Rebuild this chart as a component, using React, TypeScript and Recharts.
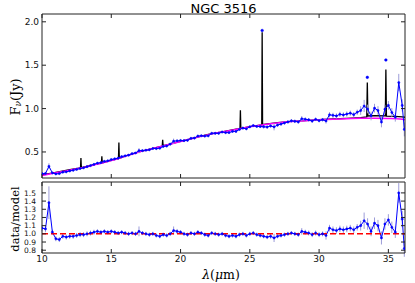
import { LineChart, Line, XAxis, YAxis, ErrorBar, ReferenceLine } from "recharts";

// wavelength grid of the measured spectrum (micron)
const waves = [
  10, 10.25, 10.5, 10.75, 11, 11.25, 11.5, 11.75, 12, 12.25, 12.5, 12.75,
  13, 13.25, 13.5, 13.75, 14, 14.25, 14.5, 14.75, 15, 15.25, 15.5, 15.75,
  16, 16.25, 16.5, 16.75, 17, 17.25, 17.5, 17.75, 18, 18.25, 18.5, 18.75,
  19, 19.25, 19.5, 19.75, 20, 20.25, 20.5, 20.75, 21, 21.25, 21.5, 21.75,
  22, 22.25, 22.5, 22.75, 23, 23.25, 23.5, 23.75, 24, 24.25, 24.5, 24.75,
  25, 25.25, 25.5, 25.75, 26, 26.25, 26.5, 26.75, 27, 27.25, 27.5, 27.75,
  28, 28.25, 28.5, 28.75, 29, 29.25, 29.5, 29.75, 30, 30.25, 30.5, 30.75,
  31, 31.25, 31.5, 31.75, 32, 32.25, 32.5, 32.75, 33, 33.25, 33.5, 33.75,
  34, 34.25, 34.5, 34.75, 35, 35.25, 35.5, 35.75, 36, 36.15,
];

const flux = [
  0.25, 0.252, 0.335, 0.258, 0.247, 0.251, 0.267, 0.271, 0.281, 0.289, 0.299, 0.309,
  0.317, 0.33, 0.343, 0.357, 0.371, 0.377, 0.391, 0.398, 0.412, 0.421, 0.429, 0.446,
  0.455, 0.463, 0.48, 0.488, 0.515, 0.515, 0.52, 0.525, 0.54, 0.539, 0.543, 0.564,
  0.568, 0.59, 0.624, 0.628, 0.632, 0.63, 0.634, 0.657, 0.66, 0.683, 0.687, 0.683,
  0.686, 0.715, 0.715, 0.715, 0.73, 0.723, 0.723, 0.737, 0.737, 0.76, 0.775, 0.767,
  0.79, 0.804, 0.794, 0.793, 0.791, 0.787, 0.8, 0.789, 0.81, 0.822, 0.834, 0.846,
  0.859, 0.853, 0.846, 0.883, 0.877, 0.871, 0.856, 0.876, 0.861, 0.872, 0.857, 0.929,
  0.922, 0.915, 0.934, 0.927, 0.937, 0.947, 0.93, 0.958, 0.977, 1.03, 0.995, 0.915,
  1.005, 0.978, 0.844, 0.993, 1.037, 0.955, 0.9, 1.3, 1.036, 0.76,
];

const fluxErr = [
  0.012, 0.012, 0.035, 0.012, 0.01, 0.01, 0.01, 0.01, 0.01, 0.01, 0.01, 0.01,
  0.01, 0.01, 0.01, 0.01, 0.012, 0.012, 0.012, 0.012, 0.012, 0.012, 0.012, 0.012,
  0.012, 0.012, 0.012, 0.012, 0.03, 0.012, 0.012, 0.012, 0.012, 0.012, 0.012, 0.012,
  0.012, 0.015, 0.03, 0.015, 0.015, 0.015, 0.015, 0.015, 0.015, 0.015, 0.015, 0.015,
  0.015, 0.015, 0.015, 0.015, 0.015, 0.015, 0.015, 0.015, 0.015, 0.015, 0.015, 0.015,
  0.015, 0.015, 0.015, 0.015, 0.02, 0.02, 0.02, 0.04, 0.02, 0.02, 0.02, 0.02,
  0.02, 0.02, 0.02, 0.03, 0.02, 0.02, 0.02, 0.02, 0.02, 0.02, 0.03, 0.03,
  0.03, 0.03, 0.03, 0.03, 0.03, 0.03, 0.03, 0.03, 0.05, 0.07, 0.05, 0.05,
  0.05, 0.05, 0.06, 0.05, 0.05, 0.05, 0.05, 0.1, 0.07, 0.08,
];

const ratio = [
  1.07, 1.06, 1.38, 1.02, 0.94, 0.93, 0.97, 0.96, 0.97, 0.97, 0.98, 0.99,
  0.99, 1.0, 1.01, 1.02, 1.03, 1.02, 1.03, 1.02, 1.03, 1.02, 1.01, 1.02,
  1.01, 1.0, 1.01, 1.0, 1.03, 1.01, 1.0, 0.99, 1.0, 0.98, 0.97, 0.99,
  0.98, 1.0, 1.04, 1.03, 1.02, 1.0, 0.99, 1.01, 1.0, 1.02, 1.01, 0.99,
  0.98, 1.01, 1.0, 0.99, 1.0, 0.98, 0.97, 0.98, 0.97, 0.99, 1.0, 0.98,
  1.0, 1.01, 0.99, 0.98, 0.97, 0.96, 0.97, 0.95, 0.97, 0.98, 0.99, 1.0,
  1.01, 1.0, 0.99, 1.03, 1.02, 1.01, 0.99, 1.01, 0.99, 1.0, 0.98, 1.07,
  1.05, 1.04, 1.06, 1.05, 1.06, 1.07, 1.05, 1.08, 1.1, 1.16, 1.12, 1.03,
  1.13, 1.1, 0.95, 1.12, 1.17, 1.08, 1.02, 1.5, 1.18, 0.82,
];

const ratioErr = [
  0.04, 0.04, 0.2, 0.03, 0.03, 0.03, 0.03, 0.03, 0.03, 0.03, 0.03, 0.03,
  0.03, 0.03, 0.03, 0.03, 0.025, 0.025, 0.025, 0.025, 0.025, 0.025, 0.025, 0.025,
  0.025, 0.025, 0.025, 0.025, 0.06, 0.025, 0.025, 0.025, 0.025, 0.025, 0.025, 0.025,
  0.025, 0.025, 0.05, 0.03, 0.025, 0.025, 0.025, 0.025, 0.025, 0.025, 0.025, 0.025,
  0.025, 0.025, 0.025, 0.025, 0.025, 0.025, 0.025, 0.025, 0.025, 0.025, 0.025, 0.025,
  0.025, 0.025, 0.025, 0.025, 0.025, 0.025, 0.03, 0.05, 0.025, 0.025, 0.025, 0.025,
  0.025, 0.025, 0.025, 0.04, 0.03, 0.03, 0.03, 0.03, 0.03, 0.03, 0.05, 0.04,
  0.04, 0.04, 0.04, 0.04, 0.04, 0.04, 0.04, 0.04, 0.06, 0.1, 0.07, 0.06,
  0.07, 0.07, 0.08, 0.07, 0.07, 0.07, 0.07, 0.12, 0.1, 0.1,
];

// line peaks of the data that stick out above the model
const peakWave = [25.89, 33.48, 34.82];
const peakFlux = [1.9, 1.36, 1.56];

// continuum (magenta)
const contWave = [10, 11, 12, 13, 14, 15, 16, 17, 18, 19, 20, 21, 22, 23, 24, 25, 26, 27, 28, 29, 30, 31, 32, 33, 34, 35, 36, 36.2];
const contFlux = [0.23, 0.26, 0.29, 0.32, 0.36, 0.4, 0.45, 0.5, 0.54, 0.58, 0.62, 0.66, 0.7, 0.73, 0.76, 0.79, 0.815, 0.835, 0.85, 0.86, 0.87, 0.878, 0.884, 0.888, 0.889, 0.886, 0.878, 0.87];

// full model with emission lines (black)
const modelWave = [
  10, 11, 12, 12.78, 12.81, 12.84, 13, 14, 14.29, 14.32, 14.35, 15, 15.52, 15.55, 15.58,
  16, 17, 18, 18.68, 18.71, 18.74, 19, 20, 21, 22, 23, 24, 24.29, 24.32, 24.35, 25,
  25.86, 25.89, 25.92, 26, 27, 28, 29, 30, 31, 32, 33, 33.44, 33.48, 33.52, 34, 34.78,
  34.82, 34.86, 35.5, 36, 36.2,
];
const modelFlux = [
  0.235, 0.265, 0.295, 0.317, 0.43, 0.319, 0.325, 0.362, 0.372, 0.45, 0.375, 0.402, 0.424, 0.61, 0.428,
  0.452, 0.502, 0.542, 0.568, 0.64, 0.573, 0.582, 0.622, 0.662, 0.702, 0.732, 0.762, 0.77, 0.98, 0.772, 0.792,
  0.812, 1.88, 0.815, 0.817, 0.837, 0.852, 0.862, 0.872, 0.88, 0.887, 0.895, 0.905, 1.3, 0.915, 0.918, 0.915,
  1.45, 0.912, 0.91, 0.905, 0.9,
];

const xTicks = [10, 15, 20, 25, 30, 35];
const fluxTicks = [0.5, 1.0, 1.5, 2.0];
const ratioTicks = [0.8, 0.9, 1.0, 1.1, 1.2, 1.3, 1.4, 1.5];

const spectrum = waves.map((x, i) => ({ x, y: flux[i], err: fluxErr[i] }));
const ratioData = waves.map((x, i) => ({ x, y: ratio[i], err: ratioErr[i] }));
const continuum = contWave.map((x, i) => ({ x, y: contFlux[i] }));
const model = modelWave.map((x, i) => ({ x, y: modelFlux[i] }));
const peaks = peakWave.map((x, i) => ({ x, y: peakFlux[i] }));

const FRAME = "#222";
const BLUE = "#0000ff";
const ERR = "#9c9cd8";
const tickFont = { fontSize: 9, fill: "#111", fontFamily: "DejaVu Sans" };
const smallTickFont = { fontSize: 7.5, fill: "#111", fontFamily: "DejaVu Sans" };
const serif = "DejaVu Serif";
const blank = () => "";

function Panels() {
  return (
    <>
      <div style={{ position: "absolute", left: 0, top: 0 }}>
        <LineChart width={415} height={180} margin={{ top: 0, right: 0, bottom: 0, left: 0 }}>
          <XAxis xAxisId="b" dataKey="x" type="number" domain={[10, 36.2]} allowDataOverflow ticks={xTicks}
            height={2} tickSize={-4} tickFormatter={blank} stroke={FRAME} />
          <XAxis xAxisId="t" orientation="top" dataKey="x" type="number" domain={[10, 36.2]} allowDataOverflow
            ticks={xTicks} height={14} tickSize={-4} tickFormatter={blank} stroke={FRAME} />
          <YAxis yAxisId="l" type="number" domain={[0.2, 2.09]} allowDataOverflow ticks={fluxTicks} width={42}
            tickSize={-4} tickMargin={7} interval={0} tick={tickFont} tickFormatter={(v: number) => v.toFixed(1)} stroke={FRAME} />
          <YAxis yAxisId="r" orientation="right" type="number" domain={[0.2, 2.09]} allowDataOverflow ticks={fluxTicks}
            width={10} tickSize={-4} tickFormatter={blank} stroke={FRAME} />
          <Line xAxisId="b" yAxisId="l" data={model} dataKey="y" type="linear" stroke="#000" strokeWidth={1.3} dot={false} isAnimationActive={false} />
          <Line xAxisId="b" yAxisId="l" data={continuum} dataKey="y" type="monotone" stroke="#ff00ff" strokeWidth={1.5} dot={false} isAnimationActive={false} />
          <Line xAxisId="b" yAxisId="l" data={spectrum} dataKey="y" stroke="none" dot={false} isAnimationActive={false}>
            <ErrorBar dataKey="err" width={0} stroke={ERR} strokeWidth={1} direction="y" />
          </Line>
          <Line xAxisId="b" yAxisId="l" data={spectrum} dataKey="y" type="linear" stroke={BLUE} strokeWidth={1}
            dot={{ r: 1.1, fill: BLUE, stroke: BLUE, strokeWidth: 0.5 }} isAnimationActive={false} />
          <Line xAxisId="b" yAxisId="l" data={peaks} dataKey="y" stroke="none"
            dot={{ r: 1.3, fill: BLUE, stroke: BLUE, strokeWidth: 0.5 }} isAnimationActive={false} />
        </LineChart>
      </div>
      <div style={{ position: "absolute", left: 0, top: 170 }}>
        <LineChart width={415} height={113} margin={{ top: 0, right: 0, bottom: 0, left: 0 }}>
          <XAxis xAxisId="b" dataKey="x" type="number" domain={[10, 36.2]} allowDataOverflow ticks={xTicks}
            height={30} tickSize={-4} tickMargin={7} interval={0} tick={tickFont} stroke={FRAME} />
          <XAxis xAxisId="t" orientation="top" dataKey="x" type="number" domain={[10, 36.2]} allowDataOverflow
            ticks={xTicks} height={12} tickSize={-4} tickFormatter={blank} stroke={FRAME} />
          <YAxis yAxisId="l" type="number" domain={[0.766, 1.633]} allowDataOverflow ticks={ratioTicks} width={42}
            tickSize={-4} tickMargin={10} interval={0} tick={smallTickFont} tickFormatter={(v: number) => v.toFixed(1)} stroke={FRAME} />
          <YAxis yAxisId="r" orientation="right" type="number" domain={[0.766, 1.633]} allowDataOverflow ticks={ratioTicks}
            width={10} tickSize={-4} tickFormatter={blank} stroke={FRAME} />
          <Line xAxisId="b" yAxisId="l" data={ratioData} dataKey="y" stroke="none" dot={false} isAnimationActive={false}>
            <ErrorBar dataKey="err" width={0} stroke={ERR} strokeWidth={1} direction="y" />
          </Line>
          <Line xAxisId="b" yAxisId="l" data={ratioData} dataKey="y" type="linear" stroke={BLUE} strokeWidth={1}
            dot={{ r: 1.1, fill: BLUE, stroke: BLUE, strokeWidth: 0.5 }} isAnimationActive={false} />
          <ReferenceLine xAxisId="b" yAxisId="l" y={1} stroke="#ff0000" strokeWidth={1.5} strokeDasharray="6 3" />
        </LineChart>
      </div>
    </>
  );
}

export default function App() {
  return (
    <div style={{ position: "absolute", left: 0, top: 0, width: 415, height: 283, background: "#fff", overflow: "hidden" }}>
      <Panels />
      <svg width={415} height={283} style={{ position: "absolute", left: 0, top: 0, pointerEvents: "none" }}>
        <text x={223.5} y={8} textAnchor="middle" dominantBaseline="central" fontFamily="DejaVu Sans" fontSize={13} fill="#000">
          NGC 3516
        </text>
        <text transform="translate(15,97) rotate(-90)" textAnchor="middle" dominantBaseline="central" fontFamily={serif} fontSize={13} fill="#000">
          F<tspan dy={3} fontSize={9} fontStyle="italic">ν</tspan><tspan dy={-3}>(Jy)</tspan>
        </text>
        <text transform="translate(15,219) rotate(-90)" textAnchor="middle" dominantBaseline="central" fontFamily={serif} fontSize={11.5} fill="#000">
          data/model
        </text>
        <text x={221} y={274} textAnchor="middle" dominantBaseline="central" fontFamily={serif} fontSize={12.5} fill="#000">
          <tspan fontStyle="italic">λ</tspan>(<tspan fontStyle="italic">μ</tspan>m)
        </text>
      </svg>
    </div>
  );
}
